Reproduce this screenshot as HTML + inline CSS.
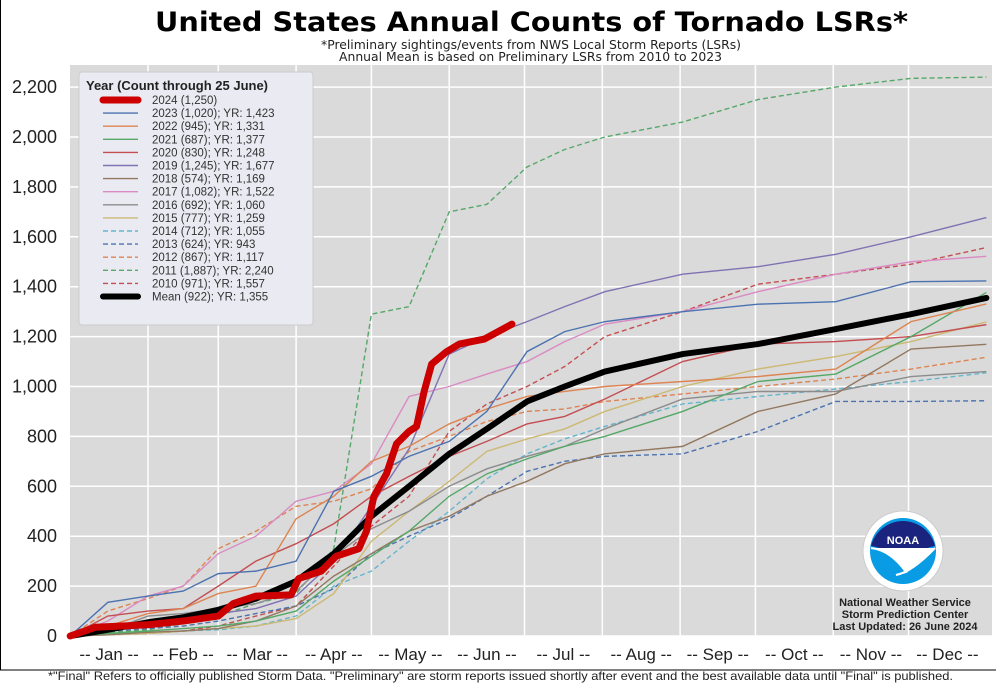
<!DOCTYPE html>
<html><head><meta charset="utf-8"><style>
html,body{margin:0;padding:0;background:#fff;}
body{width:996px;height:685px;overflow:hidden;position:relative;font-family:"Liberation Sans","DejaVu Sans",sans-serif;}
</style></head><body>
<svg id="chart" width="996" height="685" viewBox="0 0 996 685" xmlns="http://www.w3.org/2000/svg" font-family="Liberation Sans, DejaVu Sans, sans-serif">
<rect x="0.5" y="-2" width="1000" height="672" fill="#fff" stroke="#000" stroke-width="1"/>
<text x="155" y="31" font-family="DejaVu Sans, sans-serif" font-size="27" font-weight="bold" textLength="753" lengthAdjust="spacingAndGlyphs">United States Annual Counts of Tornado LSRs*</text>
<text x="321" y="49" font-family="DejaVu Sans, sans-serif" font-size="12" fill="#222" textLength="420" lengthAdjust="spacingAndGlyphs">*Preliminary sightings/events from NWS Local Storm Reports (LSRs)</text>
<text x="339" y="61" font-family="DejaVu Sans, sans-serif" font-size="12" fill="#222" textLength="383" lengthAdjust="spacingAndGlyphs">Annual Mean is based on Preliminary LSRs from 2010 to 2023</text>
<rect x="70" y="65" width="922" height="571" fill="#dadada"/>
<g id="grid"></g>
<g id="series"></g>
<g id="axes"></g>
<g id="legend"></g>
<g>
<circle cx="903" cy="551" r="40" fill="#fff" stroke="#ccc"/>
<circle cx="903" cy="551" r="33" fill="#0a9be5"/>
<path d="M871,546 A33,33 0 0 1 935,546 Q918,548 906,570 Q890,548 871,546Z" fill="#1a237e"/>
<path d="M871,548 Q890,550 906,572 L896,575 Q912,572 935,548" fill="#fff" stroke="#fff" stroke-width="2"/>
<text x="903" y="544" text-anchor="middle" font-size="11" font-weight="bold" fill="#fff">NOAA</text>
</g>
<text font-size="11" font-weight="bold" fill="#222" text-anchor="middle"><tspan x="905" y="606">National Weather Service</tspan><tspan x="905" y="618">Storm Prediction Center</tspan><tspan x="905" y="630">Last Updated: 26 June 2024</tspan></text>
<text x="48" y="680" font-size="12" fill="#222" textLength="905" lengthAdjust="spacingAndGlyphs">*"Final" Refers to officially published Storm Data. "Preliminary" are storm reports issued shortly after event and the best available data until "Final" is published.</text>
</svg>
<script>
const days = [0,15,31,45,59,74,90,105,120,135,151,166,182,197,213,244,274,305,335,365];
const yTicks = [0,200,400,600,800,1000,1200,1400,1600,1800,2000,2200];
const monthLabels = ["Jan","Feb","Mar","Apr","May","Jun","Jul","Aug","Sep","Oct","Nov","Dec"];
const monthStarts = [0,31,59,90,120,151,181,212,243,273,304,334,365];
const days2024 = [0,10,31,45,59,65,74,88,91,100,106,115,118,121,126,130,135,138,141,144,150,155,165,176];
const vals2024 = [0,35,45,60,80,130,160,165,230,260,320,350,420,560,650,770,820,840,980,1090,1140,1170,1190,1250];
const v2023 = [0,135,160,180,250,260,300,580,640,720,780,900,1140,1220,1260,1300,1330,1340,1420,1423];
const v2022 = [0,40,90,110,170,200,470,560,700,760,850,910,960,980,1000,1020,1040,1070,1260,1331];
const v2021 = [0,10,20,30,40,60,100,220,320,420,560,650,710,760,800,900,1020,1050,1200,1377];
const v2020 = [0,80,100,110,200,300,370,450,560,640,720,780,850,880,950,1100,1170,1180,1200,1248];
const v2019 = [0,20,40,60,90,110,160,300,520,750,1130,1200,1260,1320,1380,1450,1480,1530,1600,1677];
const v2018 = [0,5,15,20,30,60,120,240,330,420,480,560,620,690,730,760,900,970,1150,1169];
const v2017 = [0,60,160,200,330,400,540,580,690,960,1000,1050,1100,1180,1250,1300,1380,1450,1500,1522];
const v2016 = [0,20,80,90,110,130,180,320,430,500,600,670,720,760,830,950,980,980,1040,1060];
const v2015 = [0,5,10,20,30,40,70,170,380,500,620,740,790,830,900,1000,1070,1120,1180,1259];
const v2014 = [0,5,10,20,25,40,80,200,260,380,500,630,730,790,840,930,960,990,1020,1055];
const v2013 = [0,20,30,40,60,90,120,190,330,400,470,560,660,700,720,730,820,940,940,943];
const v2012 = [0,100,150,200,350,420,520,540,590,740,800,860,900,910,940,970,1000,1030,1070,1117];
const v2011 = [0,15,25,50,80,130,170,350,1290,1320,1700,1730,1880,1950,2000,2060,2150,2200,2235,2240];
const v2010 = [0,5,10,20,40,80,120,280,440,560,820,930,1000,1080,1200,1300,1410,1450,1490,1557];
const vMean = [0,25,55,75,105,150,220,330,480,600,730,830,940,1000,1060,1130,1170,1230,1290,1355];
const legendLabels = ["2024 (1,250)","2023 (1,020); YR: 1,423","2022 (945); YR: 1,331","2021 (687); YR: 1,377","2020 (830); YR: 1,248","2019 (1,245); YR: 1,677","2018 (574); YR: 1,169","2017 (1,082); YR: 1,522","2016 (692); YR: 1,060","2015 (777); YR: 1,259","2014 (712); YR: 1,055","2013 (624); YR: 943","2012 (867); YR: 1,117","2011 (1,887); YR: 2,240","2010 (971); YR: 1,557","Mean (922); YR: 1,355"];

const NS="http://www.w3.org/2000/svg";
const X0=70.2, XK=2.51, Y0=636, YK=0.2495;
function xs(d){return X0+d*XK;}
function ys(v){return Y0-v*YK;}
function mk(tag,attrs,parent){const e=document.createElementNS(NS,tag);for(const k in attrs)e.setAttribute(k,attrs[k]);parent.appendChild(e);return e;}

const grid=document.getElementById('grid');
yTicks.forEach(t=>{
  const l=mk('line',{x1:70,x2:992,y1:ys(t),y2:ys(t),stroke:'#fff','stroke-width':1.5},grid);
  
  
});
monthStarts.slice(1,12).forEach(d=>{
  const l=mk('line',{x1:xs(d),x2:xs(d),y1:65,y2:636,stroke:'#fff','stroke-width':1.5},grid);
  
  
});
const axes=document.getElementById('axes');
yTicks.forEach(t=>{
  const tx=mk('text',{x:57,y:ys(t)+6,'text-anchor':'end','font-size':18,fill:'#222'},axes);
  tx.textContent=t.toLocaleString('en-US');
  
  
});
monthLabels.forEach((m,i)=>{
  const c=(monthStarts[i]+monthStarts[i+1])/2;
  const tx=mk('text',{x:xs(c),y:660,'text-anchor':'middle','font-size':17,fill:'#222'},axes);
  tx.textContent='-- '+m+' --';
  
  
});

const styles=[
 {v:v2010,c:'#c44e52',d:'5,3'},{v:v2011,c:'#55a868',d:'5,3'},{v:v2012,c:'#dd8452',d:'5,3'},{v:v2013,c:'#4c72b0',d:'5,3'},{v:v2014,c:'#64b5cd',d:'5,3'},
 {v:v2015,c:'#ccb974'},{v:v2016,c:'#8c8c8c'},{v:v2017,c:'#da8bc3'},{v:v2018,c:'#937860'},{v:v2019,c:'#8172b3'},
 {v:v2020,c:'#c44e52'},{v:v2021,c:'#55a868'},{v:v2022,c:'#dd8452'},{v:v2023,c:'#4c72b0'}];
const sg=document.getElementById('series');
styles.forEach(s=>{
  const pts=s.v.map((v,i)=>xs(days[i])+','+ys(v)).join(' ');
  const p=mk('polyline',{points:pts,fill:'none',stroke:s.c,'stroke-width':1.4},sg);
  if(s.d)p.setAttribute('stroke-dasharray',s.d);
  
  
});
const mp=mk('polyline',{points:vMean.map((v,i)=>xs(days[i])+','+ys(v)).join(' '),fill:'none',stroke:'#000','stroke-width':6,'stroke-linejoin':'round','stroke-linecap':'round'},sg);


const rp=mk('polyline',{points:vals2024.map((v,i)=>xs(days2024[i])+','+ys(v)).join(' '),fill:'none',stroke:'#cc0000','stroke-width':7,'stroke-linejoin':'round','stroke-linecap':'round'},sg);



const lg=document.getElementById('legend');
const box=mk('rect',{x:79,y:72,width:234,height:253,rx:3,fill:'#eaeaf2',stroke:'#ccc'},lg);


const lt=mk('text',{x:86,y:90,'font-size':13,'font-weight':'bold',fill:'#222'},lg);
lt.textContent='Year (Count through 25 June)';


const legStyles=[{c:'#cc0000',w:7},{c:'#4c72b0'},{c:'#dd8452'},{c:'#55a868'},{c:'#c44e52'},{c:'#8172b3'},{c:'#937860'},{c:'#da8bc3'},{c:'#8c8c8c'},{c:'#ccb974'},{c:'#64b5cd',d:1},{c:'#4c72b0',d:1},{c:'#dd8452',d:1},{c:'#55a868',d:1},{c:'#c44e52',d:1},{c:'#000',w:6}];
legendLabels.forEach((lab,i)=>{
  const y=100+i*13.1;
  const s=legStyles[i];
  const l=mk('line',{x1:103,x2:138,y1:y,y2:y,stroke:s.c,'stroke-width':s.w||1.4,'stroke-linecap':s.w?'round':'butt'},lg);
  if(s.d)l.setAttribute('stroke-dasharray','5,3');
  
  
  const t=mk('text',{x:152,y:y+4,'font-size':11.5,fill:'#333'},lg);
  t.textContent=lab;
  
  
});
</script>
</body></html>
